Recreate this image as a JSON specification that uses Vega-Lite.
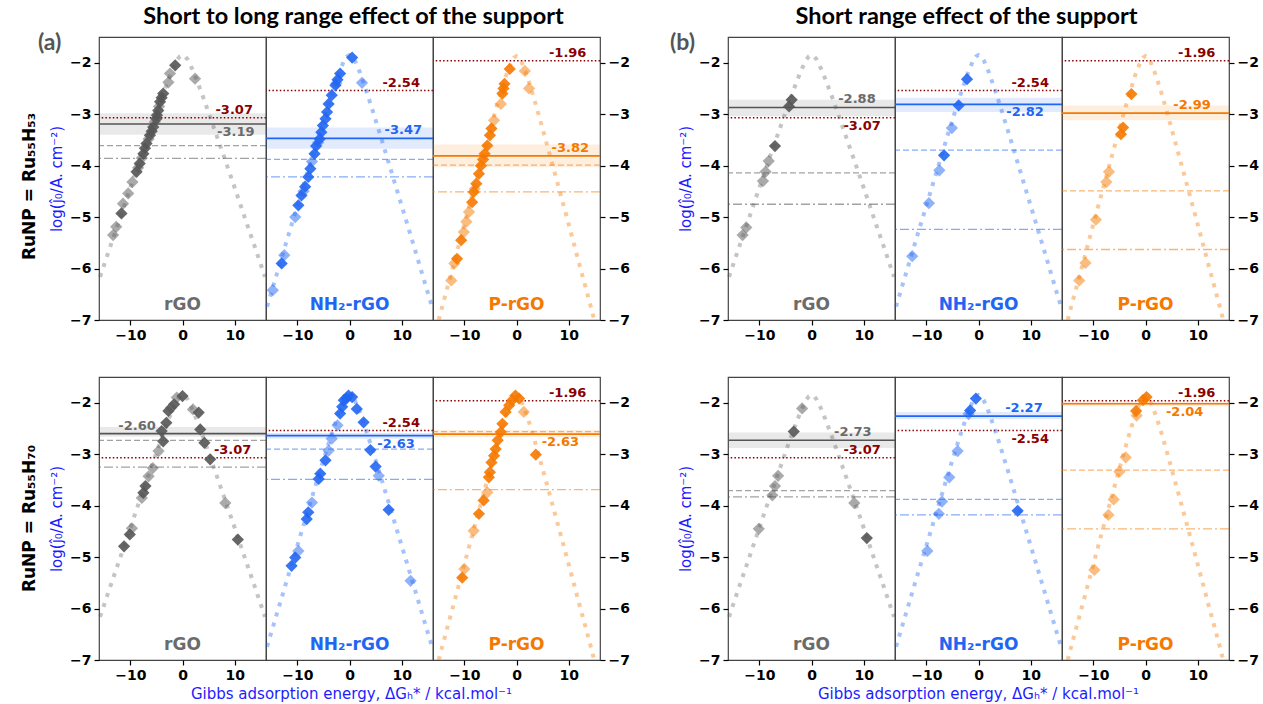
{
"$schema":"https://vega.github.io/schema/vega-lite/v6.json",
"padding":{"left":20,"top":4,"right":0,"bottom":0},
"config":{"font":"DejaVu Sans","view":{"stroke":"#444444","strokeWidth":1.2},"concat":{"spacing":0},
"axis":{"labelFont":"DejaVu Sans","labelFontWeight":"bold","labelFontSize":14,"labelColor":"#000","tickColor":"#000","tickSize":5,"tickWidth":1.2,"domain":false,"grid":false,"labelPadding":3,"titleFont":"DejaVu Sans","titleFontWeight":"normal","titleFontSize":15,"titleColor":"#1c1cff","titlePadding":5},
"title":{"font":"Lato","fontSize":23.5,"fontWeight":"bold","color":"#000","offset":4}},
"datasets":{
"vol":[
{"s":"g","x":-15.8,"y":-6.16},{"s":"g","x":-14,"y":-5.62},{"s":"g","x":-12,"y":-5.03},{"s":"g","x":-10,"y":-4.43},{"s":"g","x":-8,"y":-3.84},{"s":"g","x":-6,"y":-3.26},{"s":"g","x":-4,"y":-2.68},{"s":"g","x":-3,"y":-2.41},{"s":"g","x":-2,"y":-2.15},{"s":"g","x":-1,"y":-1.94},{"s":"g","x":-0.5,"y":-1.874},{"s":"g","x":0,"y":-1.85},{"s":"g","x":0.5,"y":-1.874},{"s":"g","x":1,"y":-1.94},{"s":"g","x":2,"y":-2.15},{"s":"g","x":3,"y":-2.41},{"s":"g","x":4,"y":-2.68},{"s":"g","x":6,"y":-3.26},{"s":"g","x":8,"y":-3.84},{"s":"g","x":10,"y":-4.43},{"s":"g","x":12,"y":-5.03},{"s":"g","x":14,"y":-5.62},{"s":"g","x":15.8,"y":-6.16},
{"s":"n","x":-15.8,"y":-6.74},{"s":"n","x":-14,"y":-6.13},{"s":"n","x":-12,"y":-5.45},{"s":"n","x":-10,"y":-4.78},{"s":"n","x":-8,"y":-4.11},{"s":"n","x":-6,"y":-3.44},{"s":"n","x":-4,"y":-2.79},{"s":"n","x":-3,"y":-2.48},{"s":"n","x":-2,"y":-2.19},{"s":"n","x":-1,"y":-1.95},{"s":"n","x":-0.5,"y":-1.878},{"s":"n","x":0,"y":-1.85},{"s":"n","x":0.5,"y":-1.878},{"s":"n","x":1,"y":-1.95},{"s":"n","x":2,"y":-2.19},{"s":"n","x":3,"y":-2.48},{"s":"n","x":4,"y":-2.79},{"s":"n","x":6,"y":-3.44},{"s":"n","x":8,"y":-4.11},{"s":"n","x":10,"y":-4.78},{"s":"n","x":12,"y":-5.45},{"s":"n","x":14,"y":-6.13},{"s":"n","x":15.8,"y":-6.74},
{"s":"p","x":-14.9,"y":-7.0},{"s":"p","x":-14,"y":-6.65},{"s":"p","x":-12,"y":-5.9},{"s":"p","x":-10,"y":-5.14},{"s":"p","x":-8,"y":-4.39},{"s":"p","x":-6,"y":-3.65},{"s":"p","x":-4,"y":-2.92},{"s":"p","x":-3,"y":-2.57},{"s":"p","x":-2,"y":-2.25},{"s":"p","x":-1,"y":-1.99},{"s":"p","x":-0.5,"y":-1.9},{"s":"p","x":0,"y":-1.87},{"s":"p","x":0.5,"y":-1.9},{"s":"p","x":1,"y":-1.99},{"s":"p","x":2,"y":-2.25},{"s":"p","x":3,"y":-2.57},{"s":"p","x":4,"y":-2.92},{"s":"p","x":6,"y":-3.65},{"s":"p","x":8,"y":-4.39},{"s":"p","x":10,"y":-5.14},{"s":"p","x":12,"y":-5.9},{"s":"p","x":14,"y":-6.65},{"s":"p","x":14.9,"y":-7.0}],
"bd":[
{"p":"a1g","y":-2.98,"y2":-3.40},{"p":"a1n","y":-3.26,"y2":-3.67},{"p":"a1p","y":-3.59,"y2":-4.03},
{"p":"a2g","y":-2.47,"y2":-2.66},{"p":"a2n","y":-2.59,"y2":-2.70},{"p":"a2p","y":-2.53,"y2":-2.67},
{"p":"b1g","y":-2.72,"y2":-3.04},{"p":"b1n","y":-2.68,"y2":-2.96},{"p":"b1p","y":-2.83,"y2":-3.12},
{"p":"b2g","y":-2.58,"y2":-2.88},{"p":"b2n","y":-2.18,"y2":-2.32},{"p":"b2p","y":-1.98,"y2":-2.07}],
"lv":[
{"p":"a1g","t":"mean","y":-3.19,"lab":"-3.19"},{"p":"a1g","t":"dash","y":-3.61},{"p":"a1g","t":"dd","y":-3.86},{"p":"a1g","t":"ref","y":-3.07,"lab":"-3.07"},
{"p":"a1n","t":"mean","y":-3.47,"lab":"-3.47"},{"p":"a1n","t":"dash","y":-3.88},{"p":"a1n","t":"dd","y":-4.22},{"p":"a1n","t":"ref","y":-2.54,"lab":"-2.54"},
{"p":"a1p","t":"mean","y":-3.81,"lab":"-3.82"},{"p":"a1p","t":"dash","y":-3.99},{"p":"a1p","t":"dd","y":-4.51},{"p":"a1p","t":"ref","y":-1.96,"lab":"-1.96"},
{"p":"a2g","t":"mean","y":-2.60,"lab":"-2.60"},{"p":"a2g","t":"dash","y":-2.73},{"p":"a2g","t":"dd","y":-3.25},{"p":"a2g","t":"ref","y":-3.07,"lab":"-3.07"},
{"p":"a2n","t":"mean","y":-2.64,"lab":"-2.63"},{"p":"a2n","t":"dash","y":-2.90},{"p":"a2n","t":"dd","y":-3.49},{"p":"a2n","t":"ref","y":-2.54,"lab":"-2.54"},
{"p":"a2p","t":"mean","y":-2.61,"lab":"-2.63"},{"p":"a2p","t":"dash","y":-2.56},{"p":"a2p","t":"dd","y":-3.69},{"p":"a2p","t":"ref","y":-1.96,"lab":"-1.96"},
{"p":"b1g","t":"mean","y":-2.87,"lab":"-2.88"},{"p":"b1g","t":"dash","y":-4.14},{"p":"b1g","t":"dd","y":-4.75},{"p":"b1g","t":"ref","y":-3.07,"lab":"-3.07"},
{"p":"b1n","t":"mean","y":-2.81,"lab":"-2.82"},{"p":"b1n","t":"dash","y":-3.70},{"p":"b1n","t":"dd","y":-5.24},{"p":"b1n","t":"ref","y":-2.54,"lab":"-2.54"},
{"p":"b1p","t":"mean","y":-2.98,"lab":"-2.99"},{"p":"b1p","t":"dash","y":-4.49},{"p":"b1p","t":"dd","y":-5.63},{"p":"b1p","t":"ref","y":-1.96,"lab":"-1.96"},
{"p":"b2g","t":"mean","y":-2.73,"lab":"-2.73"},{"p":"b2g","t":"dash","y":-3.71},{"p":"b2g","t":"dd","y":-3.83},{"p":"b2g","t":"ref","y":-3.07,"lab":"-3.07"},
{"p":"b2n","t":"mean","y":-2.26,"lab":"-2.27"},{"p":"b2n","t":"dash","y":-3.88},{"p":"b2n","t":"dd","y":-4.18},{"p":"b2n","t":"ref","y":-2.54,"lab":"-2.54"},
{"p":"b2p","t":"mean","y":-2.02,"lab":"-2.04"},{"p":"b2p","t":"dash","y":-3.31},{"p":"b2p","t":"dd","y":-4.45},{"p":"b2p","t":"ref","y":-1.96,"lab":"-1.96"}],
"pts":[
{"p":"a1g","x":-1.4,"y":-2.05,"k":"d"},{"p":"a1g","x":-2.4,"y":-2.21,"k":"l"},{"p":"a1g","x":-2.7,"y":-2.38,"k":"l"},{"p":"a1g","x":2.4,"y":-2.31,"k":"l"},{"p":"a1g","x":-3.7,"y":-2.6,"k":"d"},{"p":"a1g","x":-4.0,"y":-2.68,"k":"d"},{"p":"a1g","x":-4.3,"y":-2.76,"k":"d"},{"p":"a1g","x":-4.5,"y":-2.85,"k":"l"},{"p":"a1g","x":-4.65,"y":-2.93,"k":"d"},{"p":"a1g","x":-4.9,"y":-3.02,"k":"d"},{"p":"a1g","x":-5.0,"y":-3.09,"k":"d"},{"p":"a1g","x":-5.3,"y":-3.15,"k":"l"},{"p":"a1g","x":-5.6,"y":-3.25,"k":"d"},{"p":"a1g","x":-5.9,"y":-3.33,"k":"d"},{"p":"a1g","x":-6.25,"y":-3.41,"k":"d"},{"p":"a1g","x":-6.5,"y":-3.48,"k":"l"},{"p":"a1g","x":-6.9,"y":-3.57,"k":"d"},{"p":"a1g","x":-7.2,"y":-3.66,"k":"d"},{"p":"a1g","x":-7.5,"y":-3.77,"k":"d"},{"p":"a1g","x":-7.8,"y":-3.85,"k":"l"},{"p":"a1g","x":-8.2,"y":-3.96,"k":"d"},{"p":"a1g","x":-8.5,"y":-4.04,"k":"l"},{"p":"a1g","x":-8.8,"y":-4.12,"k":"d"},{"p":"a1g","x":-9.6,"y":-4.32,"k":"l"},{"p":"a1g","x":-10.4,"y":-4.54,"k":"l"},{"p":"a1g","x":-11.4,"y":-4.74,"k":"l"},{"p":"a1g","x":-11.7,"y":-4.93,"k":"d"},{"p":"a1g","x":-12.7,"y":-5.19,"k":"l"},{"p":"a1g","x":-13.3,"y":-5.35,"k":"l"},
{"p":"a1n","x":0.5,"y":-1.9,"k":"d"},{"p":"a1n","x":2.4,"y":-2.39,"k":"l"},{"p":"a1n","x":-1.8,"y":-2.21,"k":"d"},{"p":"a1n","x":-2.3,"y":-2.33,"k":"d"},{"p":"a1n","x":-2.5,"y":-2.4,"k":"l"},{"p":"a1n","x":-2.7,"y":-2.44,"k":"d"},{"p":"a1n","x":-3.4,"y":-2.63,"k":"d"},{"p":"a1n","x":-4.0,"y":-2.8,"k":"d"},{"p":"a1n","x":-4.3,"y":-2.96,"k":"d"},{"p":"a1n","x":-4.6,"y":-3.09,"k":"d"},{"p":"a1n","x":-5.1,"y":-3.22,"k":"d"},{"p":"a1n","x":-5.4,"y":-3.35,"k":"d"},{"p":"a1n","x":-5.7,"y":-3.48,"k":"d"},{"p":"a1n","x":-6.0,"y":-3.55,"k":"l"},{"p":"a1n","x":-6.4,"y":-3.62,"k":"d"},{"p":"a1n","x":-6.7,"y":-3.77,"k":"d"},{"p":"a1n","x":-7.2,"y":-3.92,"k":"l"},{"p":"a1n","x":-7.5,"y":-4.06,"k":"d"},{"p":"a1n","x":-7.9,"y":-4.22,"k":"d"},{"p":"a1n","x":-8.5,"y":-4.41,"k":"d"},{"p":"a1n","x":-8.8,"y":-4.5,"k":"l"},{"p":"a1n","x":-9.2,"y":-4.58,"k":"d"},{"p":"a1n","x":-9.8,"y":-4.77,"k":"d"},{"p":"a1n","x":-10.4,"y":-5.0,"k":"l"},{"p":"a1n","x":-12.5,"y":-5.74,"k":"l"},{"p":"a1n","x":-13.0,"y":-5.9,"k":"d"},{"p":"a1n","x":-14.7,"y":-6.42,"k":"l"},
{"p":"a1p","x":-1.3,"y":-2.12,"k":"d"},{"p":"a1p","x":1.6,"y":-2.16,"k":"l"},{"p":"a1p","x":2.4,"y":-2.5,"k":"l"},{"p":"a1p","x":-2.3,"y":-2.41,"k":"d"},{"p":"a1p","x":-2.5,"y":-2.5,"k":"d"},{"p":"a1p","x":-2.7,"y":-2.6,"k":"d"},{"p":"a1p","x":-3.0,"y":-2.8,"k":"l"},{"p":"a1p","x":-4.3,"y":-3.12,"k":"l"},{"p":"a1p","x":-4.8,"y":-3.28,"k":"d"},{"p":"a1p","x":-5.1,"y":-3.41,"k":"d"},{"p":"a1p","x":-5.6,"y":-3.61,"k":"d"},{"p":"a1p","x":-6.1,"y":-3.77,"k":"d"},{"p":"a1p","x":-6.4,"y":-3.88,"k":"d"},{"p":"a1p","x":-6.8,"y":-4.0,"k":"d"},{"p":"a1p","x":-7.2,"y":-4.16,"k":"d"},{"p":"a1p","x":-7.7,"y":-4.35,"k":"d"},{"p":"a1p","x":-8.0,"y":-4.45,"k":"l"},{"p":"a1p","x":-8.2,"y":-4.51,"k":"d"},{"p":"a1p","x":-8.5,"y":-4.71,"k":"d"},{"p":"a1p","x":-9.1,"y":-4.9,"k":"l"},{"p":"a1p","x":-9.6,"y":-5.09,"k":"l"},{"p":"a1p","x":-10.1,"y":-5.29,"k":"l"},{"p":"a1p","x":-10.6,"y":-5.45,"k":"d"},{"p":"a1p","x":-11.4,"y":-5.81,"k":"d"},{"p":"a1p","x":-11.9,"y":-5.9,"k":"l"},{"p":"a1p","x":-12.5,"y":-6.23,"k":"l"},
{"p":"a2g","x":0,"y":-1.87,"k":"d"},{"p":"a2g","x":-1.1,"y":-1.9,"k":"l"},{"p":"a2g","x":-1.6,"y":-2.03,"k":"d"},{"p":"a2g","x":-2.2,"y":-2.1,"k":"l"},{"p":"a2g","x":-2.7,"y":-2.16,"k":"d"},{"p":"a2g","x":-3.1,"y":-2.39,"k":"d"},{"p":"a2g","x":-4.0,"y":-2.55,"k":"d"},{"p":"a2g","x":-3.7,"y":-2.75,"k":"d"},{"p":"a2g","x":-4.6,"y":-2.94,"k":"l"},{"p":"a2g","x":-5.7,"y":-3.27,"k":"l"},{"p":"a2g","x":-6.5,"y":-3.43,"k":"l"},{"p":"a2g","x":-7.1,"y":-3.62,"k":"d"},{"p":"a2g","x":-7.5,"y":-3.75,"k":"d"},{"p":"a2g","x":-7.8,"y":-3.85,"k":"l"},{"p":"a2g","x":-9.7,"y":-4.44,"k":"l"},{"p":"a2g","x":-10.1,"y":-4.56,"k":"d"},{"p":"a2g","x":-11.2,"y":-4.79,"k":"d"},{"p":"a2g","x":2.0,"y":-2.13,"k":"l"},{"p":"a2g","x":3.1,"y":-2.19,"k":"d"},{"p":"a2g","x":3.4,"y":-2.52,"k":"d"},{"p":"a2g","x":4.2,"y":-2.78,"k":"d"},{"p":"a2g","x":5.3,"y":-3.1,"k":"d"},{"p":"a2g","x":8.2,"y":-3.95,"k":"l"},{"p":"a2g","x":10.6,"y":-4.66,"k":"d"},
{"p":"a2n","x":-0.2,"y":-1.86,"k":"d"},{"p":"a2n","x":-0.6,"y":-1.92,"k":"d"},{"p":"a2n","x":-1.1,"y":-1.95,"k":"d"},{"p":"a2n","x":0.5,"y":-1.89,"k":"d"},{"p":"a2n","x":-1.4,"y":-2.08,"k":"d"},{"p":"a2n","x":-1.8,"y":-2.21,"k":"d"},{"p":"a2n","x":-2.3,"y":-2.44,"k":"l"},{"p":"a2n","x":1.4,"y":-2.12,"k":"d"},{"p":"a2n","x":2.7,"y":-2.38,"k":"d"},{"p":"a2n","x":-3.4,"y":-2.7,"k":"l"},{"p":"a2n","x":-4.0,"y":-2.93,"k":"l"},{"p":"a2n","x":-4.6,"y":-3.12,"k":"d"},{"p":"a2n","x":-5.6,"y":-3.38,"k":"d"},{"p":"a2n","x":-5.9,"y":-3.48,"k":"d"},{"p":"a2n","x":-7.2,"y":-3.94,"k":"l"},{"p":"a2n","x":-7.9,"y":-4.13,"k":"d"},{"p":"a2n","x":-8.2,"y":-4.26,"k":"d"},{"p":"a2n","x":-9.8,"y":-4.88,"k":"l"},{"p":"a2n","x":-10.4,"y":-5.01,"k":"d"},{"p":"a2n","x":-11.1,"y":-5.17,"k":"d"},{"p":"a2n","x":4.0,"y":-2.92,"k":"d"},{"p":"a2n","x":5.0,"y":-3.24,"k":"d"},{"p":"a2n","x":5.6,"y":-3.42,"k":"l"},{"p":"a2n","x":7.5,"y":-4.08,"k":"d"},{"p":"a2n","x":11.7,"y":-5.46,"k":"l"},
{"p":"a2p","x":-0.2,"y":-1.86,"k":"d"},{"p":"a2p","x":0.5,"y":-1.92,"k":"d"},{"p":"a2p","x":-0.8,"y":-1.95,"k":"d"},{"p":"a2p","x":-1.4,"y":-2.05,"k":"d"},{"p":"a2p","x":-2.1,"y":-2.18,"k":"d"},{"p":"a2p","x":1.4,"y":-2.18,"k":"l"},{"p":"a2p","x":-2.7,"y":-2.41,"k":"d"},{"p":"a2p","x":-3.0,"y":-2.57,"k":"d"},{"p":"a2p","x":-3.6,"y":-2.73,"k":"d"},{"p":"a2p","x":-4.0,"y":-2.9,"k":"d"},{"p":"a2p","x":-4.3,"y":-3.03,"k":"d"},{"p":"a2p","x":-4.8,"y":-3.16,"k":"d"},{"p":"a2p","x":-5.1,"y":-3.35,"k":"d"},{"p":"a2p","x":-5.3,"y":-3.45,"k":"d"},{"p":"a2p","x":-5.6,"y":-3.74,"k":"l"},{"p":"a2p","x":-6.3,"y":-3.9,"k":"d"},{"p":"a2p","x":-7.2,"y":-4.16,"k":"d"},{"p":"a2p","x":-8.2,"y":-4.49,"k":"l"},{"p":"a2p","x":-10.0,"y":-5.23,"k":"l"},{"p":"a2p","x":-10.4,"y":-5.4,"k":"d"},{"p":"a2p","x":3.7,"y":-3.01,"k":"d"},
{"p":"b1g","x":-3.8,"y":-2.72,"k":"d"},{"p":"b1g","x":-4.3,"y":-2.85,"k":"d"},{"p":"b1g","x":-7.0,"y":-3.62,"k":"d"},{"p":"b1g","x":-8.2,"y":-3.91,"k":"l"},{"p":"b1g","x":-8.8,"y":-4.12,"k":"l"},{"p":"b1g","x":-9.3,"y":-4.3,"k":"l"},{"p":"b1g","x":-12.5,"y":-5.2,"k":"l"},{"p":"b1g","x":-13.2,"y":-5.35,"k":"l"},
{"p":"b1n","x":-2.2,"y":-2.32,"k":"d"},{"p":"b1n","x":-3.8,"y":-2.83,"k":"d"},{"p":"b1n","x":-5.1,"y":-3.27,"k":"l"},{"p":"b1n","x":-6.6,"y":-3.8,"k":"d"},{"p":"b1n","x":-7.5,"y":-4.09,"k":"l"},{"p":"b1n","x":-9.5,"y":-4.73,"k":"l"},{"p":"b1n","x":-12.7,"y":-5.76,"k":"l"},
{"p":"b1p","x":-2.7,"y":-2.61,"k":"d"},{"p":"b1p","x":-4.3,"y":-3.26,"k":"d"},{"p":"b1p","x":-4.7,"y":-3.39,"k":"d"},{"p":"b1p","x":-7.0,"y":-4.12,"k":"l"},{"p":"b1p","x":-7.5,"y":-4.32,"k":"l"},{"p":"b1p","x":-9.5,"y":-5.05,"k":"l"},{"p":"b1p","x":-11.5,"y":-5.89,"k":"l"},{"p":"b1p","x":-12.7,"y":-6.23,"k":"l"},
{"p":"b2g","x":-1.8,"y":-2.11,"k":"l"},{"p":"b2g","x":-3.4,"y":-2.56,"k":"d"},{"p":"b2g","x":-6.4,"y":-3.42,"k":"l"},{"p":"b2g","x":-7.0,"y":-3.62,"k":"l"},{"p":"b2g","x":-7.5,"y":-3.8,"k":"l"},{"p":"b2g","x":-10.1,"y":-4.45,"k":"l"},{"p":"b2g","x":8.2,"y":-3.95,"k":"l"},{"p":"b2g","x":10.6,"y":-4.63,"k":"d"},
{"p":"b2n","x":-0.5,"y":-1.92,"k":"d"},{"p":"b2n","x":-1.9,"y":-2.22,"k":"l"},{"p":"b2n","x":-1.6,"y":-2.15,"k":"d"},{"p":"b2n","x":-4.0,"y":-2.94,"k":"l"},{"p":"b2n","x":-5.6,"y":-3.45,"k":"l"},{"p":"b2n","x":-7.0,"y":-3.92,"k":"l"},{"p":"b2n","x":-7.6,"y":-4.16,"k":"l"},{"p":"b2n","x":-9.8,"y":-4.88,"k":"l"},{"p":"b2n","x":7.5,"y":-4.1,"k":"d"},
{"p":"b2p","x":0.2,"y":-1.89,"k":"d"},{"p":"b2p","x":-0.5,"y":-1.95,"k":"d"},{"p":"b2p","x":-1.8,"y":-2.16,"k":"d"},{"p":"b2p","x":-1.7,"y":-2.25,"k":"l"},{"p":"b2p","x":-3.8,"y":-3.06,"k":"l"},{"p":"b2p","x":-5.0,"y":-3.34,"k":"l"},{"p":"b2p","x":-6.1,"y":-3.88,"k":"l"},{"p":"b2p","x":-7.1,"y":-4.18,"k":"l"},{"p":"b2p","x":-9.8,"y":-5.25,"k":"l"}]
},
"spacing":38,
"hconcat":[
{"title":{"text":"Short to long range effect of the support","anchor":"middle","dx":28},
 "spacing":33,
 "vconcat":[
  {"title":{"text":"(a)","anchor":"start","font":"Lato","fontSize":23,"color":"#555555","dx":17,"dy":19,"offset":0},
   "vconcat":[{"title":{"text":"RuNP = Ru₅₅H₅₃","orient":"left","anchor":"middle","font":"DejaVu Sans","fontSize":17,"fontWeight":"bold","offset":10,"dx":3},
    "spacing":0,"bounds":"flush",
    "hconcat":[
{"width":167,"height":283,"encoding":{"y":{"field":"y","type":"quantitative","scale":{"domain":[-7,-1.5],"nice":false,"zero":false},"axis":{"orient":"left","values":[-2,-3,-4,-5,-6,-7],"title":"log(ĵ₀/A. cm⁻²)"}}},
 "layer":[
 {"data":{"name":"bd"},"transform":[{"filter":"datum.p=='a1g'"}],"mark":{"type":"rect","color":"#555555","opacity":0.13},"encoding":{"x":{"datum":-16,"type":"quantitative","scale":{"domain":[-16,16],"nice":false,"zero":false},"axis":{"values":[-10,0,10],"title":null}},"x2":{"datum":16},"y2":{"field":"y2"}}},
 {"data":{"name":"lv"},"transform":[{"filter":"datum.p=='a1g' && datum.t!='ref'"}],"mark":{"type":"rule","color":"#555555"},"encoding":{"strokeDash":{"condition":[{"test":"datum.t=='dash'","value":[6,3]},{"test":"datum.t=='dd'","value":[9,3,2,3]}],"value":[1,0]},"opacity":{"condition":{"test":"datum.t=='mean'","value":1},"value":0.55},"strokeWidth":{"condition":{"test":"datum.t=='mean'","value":1.6},"value":1.3}}},
 {"data":{"name":"lv"},"transform":[{"filter":"datum.p=='a1g' && datum.t=='ref'"}],"mark":{"type":"rule","color":"#8b0000","strokeDash":[1.5,2.2],"strokeWidth":1.5},"encoding":{}},
 {"data":{"name":"vol"},"transform":[{"filter":"datum.s=='g'"}],"mark":{"type":"line","color":"#555555","opacity":0.35,"strokeWidth":4,"strokeDash":[4,6.5]},"encoding":{"x":{"field":"x","type":"quantitative"}}},
 {"data":{"name":"pts"},"transform":[{"filter":"datum.p=='a1g'"}],"mark":{"type":"point","shape":"diamond","filled":true,"color":"#555555","size":150,"strokeWidth":0},"encoding":{"x":{"field":"x","type":"quantitative"},"opacity":{"condition":{"test":"datum.k=='d'","value":0.9},"value":0.5}}},
 {"data":{"name":"lv"},"transform":[{"filter":"datum.p=='a1g' && datum.t=='mean'"}],"mark":{"type":"text","align":"right","baseline":"top","dy":2,"color":"#6b6b6b","fontSize":13,"fontWeight":"bold"},"encoding":{"x":{"datum":13.8},"text":{"field":"lab"}}},
 {"data":{"name":"lv"},"transform":[{"filter":"datum.p=='a1g' && datum.t=='ref'"}],"mark":{"type":"text","align":"right","baseline":"bottom","dy":-1,"color":"#8b0000","fontSize":13,"fontWeight":"bold"},"encoding":{"x":{"datum":13.5},"text":{"field":"lab"}}},
 {"data":{"name":"bd"},"transform":[{"filter":"datum.p=='a1g'"}],"mark":{"type":"text","text":"rGO","color":"#6b6b6b","fontSize":17,"fontWeight":"bold","baseline":"middle"},"encoding":{"x":{"datum":0},"y":{"datum":-6.7,"type":"quantitative","axis":{"orient":"left","values":[-2,-3,-4,-5,-6,-7],"title":"log(ĵ₀/A. cm⁻²)"}}}}
 ]},
{"width":167,"height":283,"encoding":{"y":{"field":"y","type":"quantitative","scale":{"domain":[-7,-1.5],"nice":false,"zero":false},"axis":null}},
 "layer":[
 {"data":{"name":"bd"},"transform":[{"filter":"datum.p=='a1n'"}],"mark":{"type":"rect","color":"#2166f2","opacity":0.13},"encoding":{"x":{"datum":-16,"type":"quantitative","scale":{"domain":[-16,16],"nice":false,"zero":false},"axis":{"values":[-10,0,10],"title":null}},"x2":{"datum":16},"y2":{"field":"y2"}}},
 {"data":{"name":"lv"},"transform":[{"filter":"datum.p=='a1n' && datum.t!='ref'"}],"mark":{"type":"rule","color":"#2166f2"},"encoding":{"strokeDash":{"condition":[{"test":"datum.t=='dash'","value":[6,3]},{"test":"datum.t=='dd'","value":[9,3,2,3]}],"value":[1,0]},"opacity":{"condition":{"test":"datum.t=='mean'","value":1},"value":0.55},"strokeWidth":{"condition":{"test":"datum.t=='mean'","value":1.6},"value":1.3}}},
 {"data":{"name":"lv"},"transform":[{"filter":"datum.p=='a1n' && datum.t=='ref'"}],"mark":{"type":"rule","color":"#8b0000","strokeDash":[1.5,2.2],"strokeWidth":1.5},"encoding":{}},
 {"data":{"name":"vol"},"transform":[{"filter":"datum.s=='n'"}],"mark":{"type":"line","color":"#2166f2","opacity":0.4,"strokeWidth":4,"strokeDash":[4,6.5]},"encoding":{"x":{"field":"x","type":"quantitative"}}},
 {"data":{"name":"pts"},"transform":[{"filter":"datum.p=='a1n'"}],"mark":{"type":"point","shape":"diamond","filled":true,"color":"#2166f2","size":150,"strokeWidth":0},"encoding":{"x":{"field":"x","type":"quantitative"},"opacity":{"condition":{"test":"datum.k=='d'","value":0.9},"value":0.5}}},
 {"data":{"name":"lv"},"transform":[{"filter":"datum.p=='a1n' && datum.t=='mean'"}],"mark":{"type":"text","align":"right","baseline":"bottom","dy":-1,"color":"#2166f2","fontSize":13,"fontWeight":"bold"},"encoding":{"x":{"datum":13.9},"text":{"field":"lab"}}},
 {"data":{"name":"lv"},"transform":[{"filter":"datum.p=='a1n' && datum.t=='ref'"}],"mark":{"type":"text","align":"right","baseline":"bottom","dy":-1,"color":"#8b0000","fontSize":13,"fontWeight":"bold"},"encoding":{"x":{"datum":13.5},"text":{"field":"lab"}}},
 {"data":{"name":"bd"},"transform":[{"filter":"datum.p=='a1n'"}],"mark":{"type":"text","text":"NH₂-rGO","color":"#2166f2","fontSize":17,"fontWeight":"bold","baseline":"middle"},"encoding":{"x":{"datum":0},"y":{"datum":-6.7,"type":"quantitative","axis":null}}}
 ]},
{"width":167,"height":283,"encoding":{"y":{"field":"y","type":"quantitative","scale":{"domain":[-7,-1.5],"nice":false,"zero":false},"axis":{"orient":"right","values":[-2,-3,-4,-5,-6,-7],"title":null}}},
 "layer":[
 {"data":{"name":"bd"},"transform":[{"filter":"datum.p=='a1p'"}],"mark":{"type":"rect","color":"#f57900","opacity":0.13},"encoding":{"x":{"datum":-16,"type":"quantitative","scale":{"domain":[-16,16],"nice":false,"zero":false},"axis":{"values":[-10,0,10],"title":null}},"x2":{"datum":16},"y2":{"field":"y2"}}},
 {"data":{"name":"lv"},"transform":[{"filter":"datum.p=='a1p' && datum.t!='ref'"}],"mark":{"type":"rule","color":"#f57900"},"encoding":{"strokeDash":{"condition":[{"test":"datum.t=='dash'","value":[6,3]},{"test":"datum.t=='dd'","value":[9,3,2,3]}],"value":[1,0]},"opacity":{"condition":{"test":"datum.t=='mean'","value":1},"value":0.55},"strokeWidth":{"condition":{"test":"datum.t=='mean'","value":1.6},"value":1.3}}},
 {"data":{"name":"lv"},"transform":[{"filter":"datum.p=='a1p' && datum.t=='ref'"}],"mark":{"type":"rule","color":"#8b0000","strokeDash":[1.5,2.2],"strokeWidth":1.5},"encoding":{}},
 {"data":{"name":"vol"},"transform":[{"filter":"datum.s=='p'"}],"mark":{"type":"line","color":"#f57900","opacity":0.4,"strokeWidth":4,"strokeDash":[4,6.5]},"encoding":{"x":{"field":"x","type":"quantitative"}}},
 {"data":{"name":"pts"},"transform":[{"filter":"datum.p=='a1p'"}],"mark":{"type":"point","shape":"diamond","filled":true,"color":"#f57900","size":150,"strokeWidth":0},"encoding":{"x":{"field":"x","type":"quantitative"},"opacity":{"condition":{"test":"datum.k=='d'","value":0.9},"value":0.5}}},
 {"data":{"name":"lv"},"transform":[{"filter":"datum.p=='a1p' && datum.t=='mean'"}],"mark":{"type":"text","align":"right","baseline":"bottom","dy":-1,"color":"#f57900","fontSize":13,"fontWeight":"bold"},"encoding":{"x":{"datum":13.9},"text":{"field":"lab"}}},
 {"data":{"name":"lv"},"transform":[{"filter":"datum.p=='a1p' && datum.t=='ref'"}],"mark":{"type":"text","align":"right","baseline":"bottom","dy":-1,"color":"#8b0000","fontSize":13,"fontWeight":"bold"},"encoding":{"x":{"datum":13.4},"text":{"field":"lab"}}},
 {"data":{"name":"bd"},"transform":[{"filter":"datum.p=='a1p'"}],"mark":{"type":"text","text":"P-rGO","color":"#f57900","fontSize":17,"fontWeight":"bold","baseline":"middle"},"encoding":{"x":{"datum":0},"y":{"datum":-6.7,"type":"quantitative","axis":{"orient":"right","values":[-2,-3,-4,-5,-6,-7],"title":null}}}}
 ]}
    ]}]},
  {"title":{"text":"Gibbs adsorption energy, ΔGₕ* / kcal.mol⁻¹","orient":"bottom","anchor":"middle","font":"DejaVu Sans","fontSize":15,"fontWeight":"normal","color":"#1c1cff","dx":26,"offset":4},
   "vconcat":[{"title":{"text":"RuNP = Ru₅₅H₇₀","orient":"left","anchor":"middle","font":"DejaVu Sans","fontSize":17,"fontWeight":"bold","offset":10,"dx":11},
    "spacing":0,"bounds":"flush",
    "hconcat":[
{"width":167,"height":283,"encoding":{"y":{"field":"y","type":"quantitative","scale":{"domain":[-7,-1.5],"nice":false,"zero":false},"axis":{"orient":"left","values":[-2,-3,-4,-5,-6,-7],"title":"log(ĵ₀/A. cm⁻²)"}}},
 "layer":[
 {"data":{"name":"bd"},"transform":[{"filter":"datum.p=='a2g'"}],"mark":{"type":"rect","color":"#555555","opacity":0.13},"encoding":{"x":{"datum":-16,"type":"quantitative","scale":{"domain":[-16,16],"nice":false,"zero":false},"axis":{"values":[-10,0,10],"title":null}},"x2":{"datum":16},"y2":{"field":"y2"}}},
 {"data":{"name":"lv"},"transform":[{"filter":"datum.p=='a2g' && datum.t!='ref'"}],"mark":{"type":"rule","color":"#555555"},"encoding":{"strokeDash":{"condition":[{"test":"datum.t=='dash'","value":[6,3]},{"test":"datum.t=='dd'","value":[9,3,2,3]}],"value":[1,0]},"opacity":{"condition":{"test":"datum.t=='mean'","value":1},"value":0.55},"strokeWidth":{"condition":{"test":"datum.t=='mean'","value":1.6},"value":1.3}}},
 {"data":{"name":"lv"},"transform":[{"filter":"datum.p=='a2g' && datum.t=='ref'"}],"mark":{"type":"rule","color":"#8b0000","strokeDash":[1.5,2.2],"strokeWidth":1.5},"encoding":{}},
 {"data":{"name":"vol"},"transform":[{"filter":"datum.s=='g'"}],"mark":{"type":"line","color":"#555555","opacity":0.35,"strokeWidth":4,"strokeDash":[4,6.5]},"encoding":{"x":{"field":"x","type":"quantitative"}}},
 {"data":{"name":"pts"},"transform":[{"filter":"datum.p=='a2g'"}],"mark":{"type":"point","shape":"diamond","filled":true,"color":"#555555","size":150,"strokeWidth":0},"encoding":{"x":{"field":"x","type":"quantitative"},"opacity":{"condition":{"test":"datum.k=='d'","value":0.9},"value":0.5}}},
 {"data":{"name":"lv"},"transform":[{"filter":"datum.p=='a2g' && datum.t=='mean'"}],"mark":{"type":"text","align":"left","baseline":"bottom","dy":-1,"color":"#6b6b6b","fontSize":13,"fontWeight":"bold"},"encoding":{"x":{"datum":-12.3},"text":{"field":"lab"}}},
 {"data":{"name":"lv"},"transform":[{"filter":"datum.p=='a2g' && datum.t=='ref'"}],"mark":{"type":"text","align":"right","baseline":"bottom","dy":-1,"color":"#8b0000","fontSize":13,"fontWeight":"bold"},"encoding":{"x":{"datum":13.2},"text":{"field":"lab"}}},
 {"data":{"name":"bd"},"transform":[{"filter":"datum.p=='a2g'"}],"mark":{"type":"text","text":"rGO","color":"#6b6b6b","fontSize":17,"fontWeight":"bold","baseline":"middle"},"encoding":{"x":{"datum":0},"y":{"datum":-6.7,"type":"quantitative","axis":{"orient":"left","values":[-2,-3,-4,-5,-6,-7],"title":"log(ĵ₀/A. cm⁻²)"}}}}
 ]},
{"width":167,"height":283,"encoding":{"y":{"field":"y","type":"quantitative","scale":{"domain":[-7,-1.5],"nice":false,"zero":false},"axis":null}},
 "layer":[
 {"data":{"name":"bd"},"transform":[{"filter":"datum.p=='a2n'"}],"mark":{"type":"rect","color":"#2166f2","opacity":0.13},"encoding":{"x":{"datum":-16,"type":"quantitative","scale":{"domain":[-16,16],"nice":false,"zero":false},"axis":{"values":[-10,0,10],"title":null}},"x2":{"datum":16},"y2":{"field":"y2"}}},
 {"data":{"name":"lv"},"transform":[{"filter":"datum.p=='a2n' && datum.t!='ref'"}],"mark":{"type":"rule","color":"#2166f2"},"encoding":{"strokeDash":{"condition":[{"test":"datum.t=='dash'","value":[6,3]},{"test":"datum.t=='dd'","value":[9,3,2,3]}],"value":[1,0]},"opacity":{"condition":{"test":"datum.t=='mean'","value":1},"value":0.55},"strokeWidth":{"condition":{"test":"datum.t=='mean'","value":1.6},"value":1.3}}},
 {"data":{"name":"lv"},"transform":[{"filter":"datum.p=='a2n' && datum.t=='ref'"}],"mark":{"type":"rule","color":"#8b0000","strokeDash":[1.5,2.2],"strokeWidth":1.5},"encoding":{}},
 {"data":{"name":"vol"},"transform":[{"filter":"datum.s=='n'"}],"mark":{"type":"line","color":"#2166f2","opacity":0.4,"strokeWidth":4,"strokeDash":[4,6.5]},"encoding":{"x":{"field":"x","type":"quantitative"}}},
 {"data":{"name":"pts"},"transform":[{"filter":"datum.p=='a2n'"}],"mark":{"type":"point","shape":"diamond","filled":true,"color":"#2166f2","size":150,"strokeWidth":0},"encoding":{"x":{"field":"x","type":"quantitative"},"opacity":{"condition":{"test":"datum.k=='d'","value":0.9},"value":0.5}}},
 {"data":{"name":"lv"},"transform":[{"filter":"datum.p=='a2n' && datum.t=='mean'"}],"mark":{"type":"text","align":"right","baseline":"top","dy":2,"color":"#2166f2","fontSize":13,"fontWeight":"bold"},"encoding":{"x":{"datum":12.5},"text":{"field":"lab"}}},
 {"data":{"name":"lv"},"transform":[{"filter":"datum.p=='a2n' && datum.t=='ref'"}],"mark":{"type":"text","align":"right","baseline":"bottom","dy":-1,"color":"#8b0000","fontSize":13,"fontWeight":"bold"},"encoding":{"x":{"datum":13.5},"text":{"field":"lab"}}},
 {"data":{"name":"bd"},"transform":[{"filter":"datum.p=='a2n'"}],"mark":{"type":"text","text":"NH₂-rGO","color":"#2166f2","fontSize":17,"fontWeight":"bold","baseline":"middle"},"encoding":{"x":{"datum":0},"y":{"datum":-6.7,"type":"quantitative","axis":null}}}
 ]},
{"width":167,"height":283,"encoding":{"y":{"field":"y","type":"quantitative","scale":{"domain":[-7,-1.5],"nice":false,"zero":false},"axis":{"orient":"right","values":[-2,-3,-4,-5,-6,-7],"title":null}}},
 "layer":[
 {"data":{"name":"bd"},"transform":[{"filter":"datum.p=='a2p'"}],"mark":{"type":"rect","color":"#f57900","opacity":0.13},"encoding":{"x":{"datum":-16,"type":"quantitative","scale":{"domain":[-16,16],"nice":false,"zero":false},"axis":{"values":[-10,0,10],"title":null}},"x2":{"datum":16},"y2":{"field":"y2"}}},
 {"data":{"name":"lv"},"transform":[{"filter":"datum.p=='a2p' && datum.t!='ref'"}],"mark":{"type":"rule","color":"#f57900"},"encoding":{"strokeDash":{"condition":[{"test":"datum.t=='dash'","value":[6,3]},{"test":"datum.t=='dd'","value":[9,3,2,3]}],"value":[1,0]},"opacity":{"condition":{"test":"datum.t=='mean'","value":1},"value":0.55},"strokeWidth":{"condition":{"test":"datum.t=='mean'","value":1.6},"value":1.3}}},
 {"data":{"name":"lv"},"transform":[{"filter":"datum.p=='a2p' && datum.t=='ref'"}],"mark":{"type":"rule","color":"#8b0000","strokeDash":[1.5,2.2],"strokeWidth":1.5},"encoding":{}},
 {"data":{"name":"vol"},"transform":[{"filter":"datum.s=='p'"}],"mark":{"type":"line","color":"#f57900","opacity":0.4,"strokeWidth":4,"strokeDash":[4,6.5]},"encoding":{"x":{"field":"x","type":"quantitative"}}},
 {"data":{"name":"pts"},"transform":[{"filter":"datum.p=='a2p'"}],"mark":{"type":"point","shape":"diamond","filled":true,"color":"#f57900","size":150,"strokeWidth":0},"encoding":{"x":{"field":"x","type":"quantitative"},"opacity":{"condition":{"test":"datum.k=='d'","value":0.9},"value":0.5}}},
 {"data":{"name":"lv"},"transform":[{"filter":"datum.p=='a2p' && datum.t=='mean'"}],"mark":{"type":"text","align":"right","baseline":"top","dy":2,"color":"#f57900","fontSize":13,"fontWeight":"bold"},"encoding":{"x":{"datum":12.0},"text":{"field":"lab"}}},
 {"data":{"name":"lv"},"transform":[{"filter":"datum.p=='a2p' && datum.t=='ref'"}],"mark":{"type":"text","align":"right","baseline":"bottom","dy":-1,"color":"#8b0000","fontSize":13,"fontWeight":"bold"},"encoding":{"x":{"datum":13.4},"text":{"field":"lab"}}},
 {"data":{"name":"bd"},"transform":[{"filter":"datum.p=='a2p'"}],"mark":{"type":"text","text":"P-rGO","color":"#f57900","fontSize":17,"fontWeight":"bold","baseline":"middle"},"encoding":{"x":{"datum":0},"y":{"datum":-6.7,"type":"quantitative","axis":{"orient":"right","values":[-2,-3,-4,-5,-6,-7],"title":null}}}}
 ]}
    ]}]}
 ]},
{"title":{"text":"Short range effect of the support","anchor":"middle","dx":2},
 "spacing":33,
 "vconcat":[
  {"title":{"text":"(b)","anchor":"start","font":"Lato","fontSize":23,"color":"#555555","dx":-8,"dy":19,"offset":0},
   "vconcat":[{"spacing":0,"bounds":"flush",
    "hconcat":[
{"width":167,"height":283,"encoding":{"y":{"field":"y","type":"quantitative","scale":{"domain":[-7,-1.5],"nice":false,"zero":false},"axis":{"orient":"left","values":[-2,-3,-4,-5,-6,-7],"title":"log(ĵ₀/A. cm⁻²)"}}},
 "layer":[
 {"data":{"name":"bd"},"transform":[{"filter":"datum.p=='b1g'"}],"mark":{"type":"rect","color":"#555555","opacity":0.13},"encoding":{"x":{"datum":-16,"type":"quantitative","scale":{"domain":[-16,16],"nice":false,"zero":false},"axis":{"values":[-10,0,10],"title":null}},"x2":{"datum":16},"y2":{"field":"y2"}}},
 {"data":{"name":"lv"},"transform":[{"filter":"datum.p=='b1g' && datum.t!='ref'"}],"mark":{"type":"rule","color":"#555555"},"encoding":{"strokeDash":{"condition":[{"test":"datum.t=='dash'","value":[6,3]},{"test":"datum.t=='dd'","value":[9,3,2,3]}],"value":[1,0]},"opacity":{"condition":{"test":"datum.t=='mean'","value":1},"value":0.55},"strokeWidth":{"condition":{"test":"datum.t=='mean'","value":1.6},"value":1.3}}},
 {"data":{"name":"lv"},"transform":[{"filter":"datum.p=='b1g' && datum.t=='ref'"}],"mark":{"type":"rule","color":"#8b0000","strokeDash":[1.5,2.2],"strokeWidth":1.5},"encoding":{}},
 {"data":{"name":"vol"},"transform":[{"filter":"datum.s=='g'"}],"mark":{"type":"line","color":"#555555","opacity":0.35,"strokeWidth":4,"strokeDash":[4,6.5]},"encoding":{"x":{"field":"x","type":"quantitative"}}},
 {"data":{"name":"pts"},"transform":[{"filter":"datum.p=='b1g'"}],"mark":{"type":"point","shape":"diamond","filled":true,"color":"#555555","size":150,"strokeWidth":0},"encoding":{"x":{"field":"x","type":"quantitative"},"opacity":{"condition":{"test":"datum.k=='d'","value":0.9},"value":0.5}}},
 {"data":{"name":"lv"},"transform":[{"filter":"datum.p=='b1g' && datum.t=='mean'"}],"mark":{"type":"text","align":"right","baseline":"bottom","dy":-1,"color":"#6b6b6b","fontSize":13,"fontWeight":"bold"},"encoding":{"x":{"datum":12.3},"text":{"field":"lab"}}},
 {"data":{"name":"lv"},"transform":[{"filter":"datum.p=='b1g' && datum.t=='ref'"}],"mark":{"type":"text","align":"right","baseline":"top","dy":2,"color":"#8b0000","fontSize":13,"fontWeight":"bold"},"encoding":{"x":{"datum":13.3},"text":{"field":"lab"}}},
 {"data":{"name":"bd"},"transform":[{"filter":"datum.p=='b1g'"}],"mark":{"type":"text","text":"rGO","color":"#6b6b6b","fontSize":17,"fontWeight":"bold","baseline":"middle"},"encoding":{"x":{"datum":0},"y":{"datum":-6.7,"type":"quantitative","axis":{"orient":"left","values":[-2,-3,-4,-5,-6,-7],"title":"log(ĵ₀/A. cm⁻²)"}}}}
 ]},
{"width":167,"height":283,"encoding":{"y":{"field":"y","type":"quantitative","scale":{"domain":[-7,-1.5],"nice":false,"zero":false},"axis":null}},
 "layer":[
 {"data":{"name":"bd"},"transform":[{"filter":"datum.p=='b1n'"}],"mark":{"type":"rect","color":"#2166f2","opacity":0.13},"encoding":{"x":{"datum":-16,"type":"quantitative","scale":{"domain":[-16,16],"nice":false,"zero":false},"axis":{"values":[-10,0,10],"title":null}},"x2":{"datum":16},"y2":{"field":"y2"}}},
 {"data":{"name":"lv"},"transform":[{"filter":"datum.p=='b1n' && datum.t!='ref'"}],"mark":{"type":"rule","color":"#2166f2"},"encoding":{"strokeDash":{"condition":[{"test":"datum.t=='dash'","value":[6,3]},{"test":"datum.t=='dd'","value":[9,3,2,3]}],"value":[1,0]},"opacity":{"condition":{"test":"datum.t=='mean'","value":1},"value":0.55},"strokeWidth":{"condition":{"test":"datum.t=='mean'","value":1.6},"value":1.3}}},
 {"data":{"name":"lv"},"transform":[{"filter":"datum.p=='b1n' && datum.t=='ref'"}],"mark":{"type":"rule","color":"#8b0000","strokeDash":[1.5,2.2],"strokeWidth":1.5},"encoding":{}},
 {"data":{"name":"vol"},"transform":[{"filter":"datum.s=='n'"}],"mark":{"type":"line","color":"#2166f2","opacity":0.4,"strokeWidth":4,"strokeDash":[4,6.5]},"encoding":{"x":{"field":"x","type":"quantitative"}}},
 {"data":{"name":"pts"},"transform":[{"filter":"datum.p=='b1n'"}],"mark":{"type":"point","shape":"diamond","filled":true,"color":"#2166f2","size":150,"strokeWidth":0},"encoding":{"x":{"field":"x","type":"quantitative"},"opacity":{"condition":{"test":"datum.k=='d'","value":0.9},"value":0.5}}},
 {"data":{"name":"lv"},"transform":[{"filter":"datum.p=='b1n' && datum.t=='mean'"}],"mark":{"type":"text","align":"right","baseline":"top","dy":2,"color":"#2166f2","fontSize":13,"fontWeight":"bold"},"encoding":{"x":{"datum":12.5},"text":{"field":"lab"}}},
 {"data":{"name":"lv"},"transform":[{"filter":"datum.p=='b1n' && datum.t=='ref'"}],"mark":{"type":"text","align":"right","baseline":"bottom","dy":-1,"color":"#8b0000","fontSize":13,"fontWeight":"bold"},"encoding":{"x":{"datum":13.5},"text":{"field":"lab"}}},
 {"data":{"name":"bd"},"transform":[{"filter":"datum.p=='b1n'"}],"mark":{"type":"text","text":"NH₂-rGO","color":"#2166f2","fontSize":17,"fontWeight":"bold","baseline":"middle"},"encoding":{"x":{"datum":0},"y":{"datum":-6.7,"type":"quantitative","axis":null}}}
 ]},
{"width":167,"height":283,"encoding":{"y":{"field":"y","type":"quantitative","scale":{"domain":[-7,-1.5],"nice":false,"zero":false},"axis":{"orient":"right","values":[-2,-3,-4,-5,-6,-7],"title":null}}},
 "layer":[
 {"data":{"name":"bd"},"transform":[{"filter":"datum.p=='b1p'"}],"mark":{"type":"rect","color":"#f57900","opacity":0.13},"encoding":{"x":{"datum":-16,"type":"quantitative","scale":{"domain":[-16,16],"nice":false,"zero":false},"axis":{"values":[-10,0,10],"title":null}},"x2":{"datum":16},"y2":{"field":"y2"}}},
 {"data":{"name":"lv"},"transform":[{"filter":"datum.p=='b1p' && datum.t!='ref'"}],"mark":{"type":"rule","color":"#f57900"},"encoding":{"strokeDash":{"condition":[{"test":"datum.t=='dash'","value":[6,3]},{"test":"datum.t=='dd'","value":[9,3,2,3]}],"value":[1,0]},"opacity":{"condition":{"test":"datum.t=='mean'","value":1},"value":0.55},"strokeWidth":{"condition":{"test":"datum.t=='mean'","value":1.6},"value":1.3}}},
 {"data":{"name":"lv"},"transform":[{"filter":"datum.p=='b1p' && datum.t=='ref'"}],"mark":{"type":"rule","color":"#8b0000","strokeDash":[1.5,2.2],"strokeWidth":1.5},"encoding":{}},
 {"data":{"name":"vol"},"transform":[{"filter":"datum.s=='p'"}],"mark":{"type":"line","color":"#f57900","opacity":0.4,"strokeWidth":4,"strokeDash":[4,6.5]},"encoding":{"x":{"field":"x","type":"quantitative"}}},
 {"data":{"name":"pts"},"transform":[{"filter":"datum.p=='b1p'"}],"mark":{"type":"point","shape":"diamond","filled":true,"color":"#f57900","size":150,"strokeWidth":0},"encoding":{"x":{"field":"x","type":"quantitative"},"opacity":{"condition":{"test":"datum.k=='d'","value":0.9},"value":0.5}}},
 {"data":{"name":"lv"},"transform":[{"filter":"datum.p=='b1p' && datum.t=='mean'"}],"mark":{"type":"text","align":"right","baseline":"bottom","dy":-1,"color":"#f57900","fontSize":13,"fontWeight":"bold"},"encoding":{"x":{"datum":12.5},"text":{"field":"lab"}}},
 {"data":{"name":"lv"},"transform":[{"filter":"datum.p=='b1p' && datum.t=='ref'"}],"mark":{"type":"text","align":"right","baseline":"bottom","dy":-1,"color":"#8b0000","fontSize":13,"fontWeight":"bold"},"encoding":{"x":{"datum":13.4},"text":{"field":"lab"}}},
 {"data":{"name":"bd"},"transform":[{"filter":"datum.p=='b1p'"}],"mark":{"type":"text","text":"P-rGO","color":"#f57900","fontSize":17,"fontWeight":"bold","baseline":"middle"},"encoding":{"x":{"datum":0},"y":{"datum":-6.7,"type":"quantitative","axis":{"orient":"right","values":[-2,-3,-4,-5,-6,-7],"title":null}}}}
 ]}
    ]}]},
  {"title":{"text":"Gibbs adsorption energy, ΔGₕ* / kcal.mol⁻¹","orient":"bottom","anchor":"middle","font":"DejaVu Sans","fontSize":15,"fontWeight":"normal","color":"#1c1cff","dx":10,"offset":4},
   "vconcat":[{"spacing":0,"bounds":"flush",
    "hconcat":[
{"width":167,"height":283,"encoding":{"y":{"field":"y","type":"quantitative","scale":{"domain":[-7,-1.5],"nice":false,"zero":false},"axis":{"orient":"left","values":[-2,-3,-4,-5,-6,-7],"title":"log(ĵ₀/A. cm⁻²)"}}},
 "layer":[
 {"data":{"name":"bd"},"transform":[{"filter":"datum.p=='b2g'"}],"mark":{"type":"rect","color":"#555555","opacity":0.13},"encoding":{"x":{"datum":-16,"type":"quantitative","scale":{"domain":[-16,16],"nice":false,"zero":false},"axis":{"values":[-10,0,10],"title":null}},"x2":{"datum":16},"y2":{"field":"y2"}}},
 {"data":{"name":"lv"},"transform":[{"filter":"datum.p=='b2g' && datum.t!='ref'"}],"mark":{"type":"rule","color":"#555555"},"encoding":{"strokeDash":{"condition":[{"test":"datum.t=='dash'","value":[6,3]},{"test":"datum.t=='dd'","value":[9,3,2,3]}],"value":[1,0]},"opacity":{"condition":{"test":"datum.t=='mean'","value":1},"value":0.55},"strokeWidth":{"condition":{"test":"datum.t=='mean'","value":1.6},"value":1.3}}},
 {"data":{"name":"lv"},"transform":[{"filter":"datum.p=='b2g' && datum.t=='ref'"}],"mark":{"type":"rule","color":"#8b0000","strokeDash":[1.5,2.2],"strokeWidth":1.5},"encoding":{}},
 {"data":{"name":"vol"},"transform":[{"filter":"datum.s=='g'"}],"mark":{"type":"line","color":"#555555","opacity":0.35,"strokeWidth":4,"strokeDash":[4,6.5]},"encoding":{"x":{"field":"x","type":"quantitative"}}},
 {"data":{"name":"pts"},"transform":[{"filter":"datum.p=='b2g'"}],"mark":{"type":"point","shape":"diamond","filled":true,"color":"#555555","size":150,"strokeWidth":0},"encoding":{"x":{"field":"x","type":"quantitative"},"opacity":{"condition":{"test":"datum.k=='d'","value":0.9},"value":0.5}}},
 {"data":{"name":"lv"},"transform":[{"filter":"datum.p=='b2g' && datum.t=='mean'"}],"mark":{"type":"text","align":"right","baseline":"bottom","dy":-1,"color":"#6b6b6b","fontSize":13,"fontWeight":"bold"},"encoding":{"x":{"datum":11.5},"text":{"field":"lab"}}},
 {"data":{"name":"lv"},"transform":[{"filter":"datum.p=='b2g' && datum.t=='ref'"}],"mark":{"type":"text","align":"right","baseline":"bottom","dy":-1,"color":"#8b0000","fontSize":13,"fontWeight":"bold"},"encoding":{"x":{"datum":13.3},"text":{"field":"lab"}}},
 {"data":{"name":"bd"},"transform":[{"filter":"datum.p=='b2g'"}],"mark":{"type":"text","text":"rGO","color":"#6b6b6b","fontSize":17,"fontWeight":"bold","baseline":"middle"},"encoding":{"x":{"datum":0},"y":{"datum":-6.7,"type":"quantitative","axis":{"orient":"left","values":[-2,-3,-4,-5,-6,-7],"title":"log(ĵ₀/A. cm⁻²)"}}}}
 ]},
{"width":167,"height":283,"encoding":{"y":{"field":"y","type":"quantitative","scale":{"domain":[-7,-1.5],"nice":false,"zero":false},"axis":null}},
 "layer":[
 {"data":{"name":"bd"},"transform":[{"filter":"datum.p=='b2n'"}],"mark":{"type":"rect","color":"#2166f2","opacity":0.13},"encoding":{"x":{"datum":-16,"type":"quantitative","scale":{"domain":[-16,16],"nice":false,"zero":false},"axis":{"values":[-10,0,10],"title":null}},"x2":{"datum":16},"y2":{"field":"y2"}}},
 {"data":{"name":"lv"},"transform":[{"filter":"datum.p=='b2n' && datum.t!='ref'"}],"mark":{"type":"rule","color":"#2166f2"},"encoding":{"strokeDash":{"condition":[{"test":"datum.t=='dash'","value":[6,3]},{"test":"datum.t=='dd'","value":[9,3,2,3]}],"value":[1,0]},"opacity":{"condition":{"test":"datum.t=='mean'","value":1},"value":0.55},"strokeWidth":{"condition":{"test":"datum.t=='mean'","value":1.6},"value":1.3}}},
 {"data":{"name":"lv"},"transform":[{"filter":"datum.p=='b2n' && datum.t=='ref'"}],"mark":{"type":"rule","color":"#8b0000","strokeDash":[1.5,2.2],"strokeWidth":1.5},"encoding":{}},
 {"data":{"name":"vol"},"transform":[{"filter":"datum.s=='n'"}],"mark":{"type":"line","color":"#2166f2","opacity":0.4,"strokeWidth":4,"strokeDash":[4,6.5]},"encoding":{"x":{"field":"x","type":"quantitative"}}},
 {"data":{"name":"pts"},"transform":[{"filter":"datum.p=='b2n'"}],"mark":{"type":"point","shape":"diamond","filled":true,"color":"#2166f2","size":150,"strokeWidth":0},"encoding":{"x":{"field":"x","type":"quantitative"},"opacity":{"condition":{"test":"datum.k=='d'","value":0.9},"value":0.5}}},
 {"data":{"name":"lv"},"transform":[{"filter":"datum.p=='b2n' && datum.t=='mean'"}],"mark":{"type":"text","align":"right","baseline":"bottom","dy":-1,"color":"#2166f2","fontSize":13,"fontWeight":"bold"},"encoding":{"x":{"datum":12.3},"text":{"field":"lab"}}},
 {"data":{"name":"lv"},"transform":[{"filter":"datum.p=='b2n' && datum.t=='ref'"}],"mark":{"type":"text","align":"right","baseline":"top","dy":2,"color":"#8b0000","fontSize":13,"fontWeight":"bold"},"encoding":{"x":{"datum":13.5},"text":{"field":"lab"}}},
 {"data":{"name":"bd"},"transform":[{"filter":"datum.p=='b2n'"}],"mark":{"type":"text","text":"NH₂-rGO","color":"#2166f2","fontSize":17,"fontWeight":"bold","baseline":"middle"},"encoding":{"x":{"datum":0},"y":{"datum":-6.7,"type":"quantitative","axis":null}}}
 ]},
{"width":167,"height":283,"encoding":{"y":{"field":"y","type":"quantitative","scale":{"domain":[-7,-1.5],"nice":false,"zero":false},"axis":{"orient":"right","values":[-2,-3,-4,-5,-6,-7],"title":null}}},
 "layer":[
 {"data":{"name":"bd"},"transform":[{"filter":"datum.p=='b2p'"}],"mark":{"type":"rect","color":"#f57900","opacity":0.13},"encoding":{"x":{"datum":-16,"type":"quantitative","scale":{"domain":[-16,16],"nice":false,"zero":false},"axis":{"values":[-10,0,10],"title":null}},"x2":{"datum":16},"y2":{"field":"y2"}}},
 {"data":{"name":"lv"},"transform":[{"filter":"datum.p=='b2p' && datum.t!='ref'"}],"mark":{"type":"rule","color":"#f57900"},"encoding":{"strokeDash":{"condition":[{"test":"datum.t=='dash'","value":[6,3]},{"test":"datum.t=='dd'","value":[9,3,2,3]}],"value":[1,0]},"opacity":{"condition":{"test":"datum.t=='mean'","value":1},"value":0.55},"strokeWidth":{"condition":{"test":"datum.t=='mean'","value":1.6},"value":1.3}}},
 {"data":{"name":"lv"},"transform":[{"filter":"datum.p=='b2p' && datum.t=='ref'"}],"mark":{"type":"rule","color":"#8b0000","strokeDash":[1.5,2.2],"strokeWidth":1.5},"encoding":{}},
 {"data":{"name":"vol"},"transform":[{"filter":"datum.s=='p'"}],"mark":{"type":"line","color":"#f57900","opacity":0.4,"strokeWidth":4,"strokeDash":[4,6.5]},"encoding":{"x":{"field":"x","type":"quantitative"}}},
 {"data":{"name":"pts"},"transform":[{"filter":"datum.p=='b2p'"}],"mark":{"type":"point","shape":"diamond","filled":true,"color":"#f57900","size":150,"strokeWidth":0},"encoding":{"x":{"field":"x","type":"quantitative"},"opacity":{"condition":{"test":"datum.k=='d'","value":0.9},"value":0.5}}},
 {"data":{"name":"lv"},"transform":[{"filter":"datum.p=='b2p' && datum.t=='mean'"}],"mark":{"type":"text","align":"right","baseline":"top","dy":2,"color":"#f57900","fontSize":13,"fontWeight":"bold"},"encoding":{"x":{"datum":11.1},"text":{"field":"lab"}}},
 {"data":{"name":"lv"},"transform":[{"filter":"datum.p=='b2p' && datum.t=='ref'"}],"mark":{"type":"text","align":"right","baseline":"bottom","dy":-1,"color":"#8b0000","fontSize":13,"fontWeight":"bold"},"encoding":{"x":{"datum":13.4},"text":{"field":"lab"}}},
 {"data":{"name":"bd"},"transform":[{"filter":"datum.p=='b2p'"}],"mark":{"type":"text","text":"P-rGO","color":"#f57900","fontSize":17,"fontWeight":"bold","baseline":"middle"},"encoding":{"x":{"datum":0},"y":{"datum":-6.7,"type":"quantitative","axis":{"orient":"right","values":[-2,-3,-4,-5,-6,-7],"title":null}}}}
 ]}
    ]}]}
 ]}
]
}
